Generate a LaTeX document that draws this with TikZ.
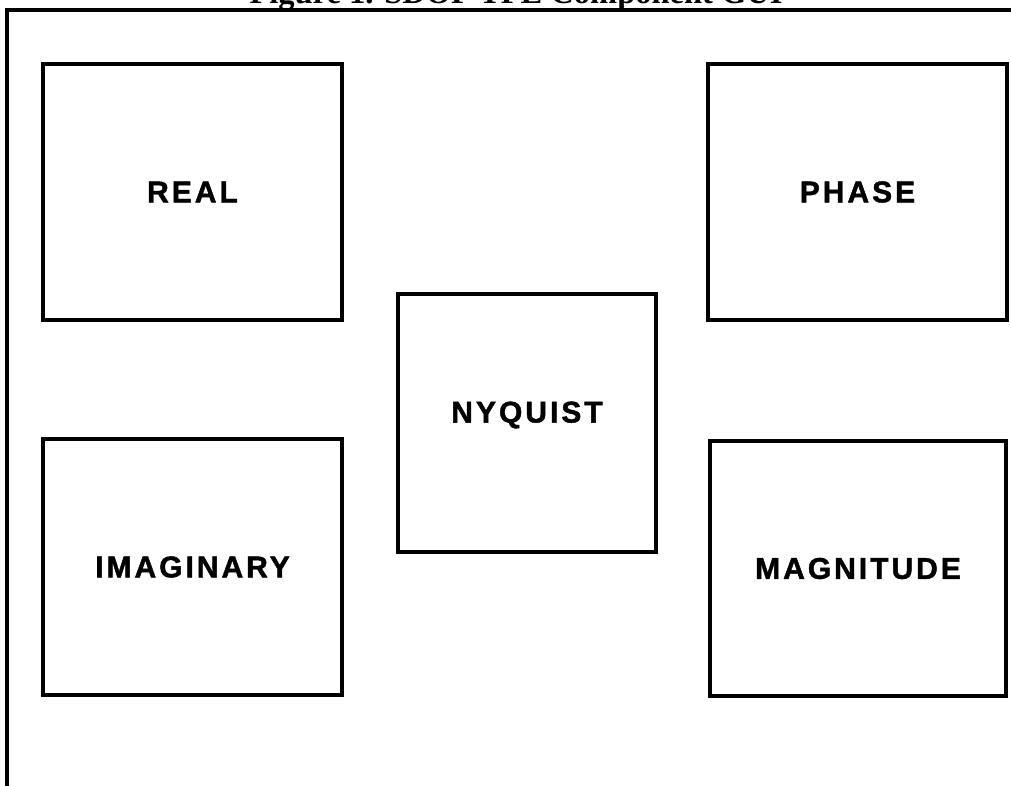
\documentclass[tikz,border=0pt]{standalone}
\usepackage{fontspec}
\setmainfont{Liberation Serif}
\newfontfamily\panelfont[LetterSpace=10, FakeBold=1.5]{Liberation Sans}
\begin{document}
\begin{tikzpicture}[x=1pt, y=-1pt,
        panel/.style = {draw, line width=3.5pt, font=\panelfont\bfseries\fontsize{30}{32}\selectfont,
                        inner sep=0pt}]
            \useasboundingbox (0,0) rectangle (1011,785);
            \clip (0,0) rectangle (1011,785);

            % title, cut at the top edge
            \node[anchor=base, font=\bfseries\fontsize{32.5}{34}\selectfont, inner sep=0pt] (title) at (516,3) {Figure 1. SDOF TFE Component GUI};

            % outer frame
            \draw[line width=3.5pt] (1013,10) -| (7,787);

            \node[panel, minimum width=299pt, minimum height=256pt] (real) at (192.5,192) {REAL};
            \node[panel, minimum width=299pt, minimum height=256pt] (imag) at (192.5,567) {IMAGINARY};
            \node[panel, minimum width=258pt, minimum height=258pt,
                  label={[font=\panelfont\bfseries\fontsize{30}{32}\selectfont, yshift=8pt]center:NYQUIST}] (nyq) at (527,423) {};
            \node[panel, minimum width=299pt, minimum height=256pt] (phase) at (857.5,192) {PHASE};
            \node[panel, minimum width=296pt, minimum height=255pt] (mag) at (858,568.5) {MAGNITUDE};

        \end{tikzpicture}
\end{document}
